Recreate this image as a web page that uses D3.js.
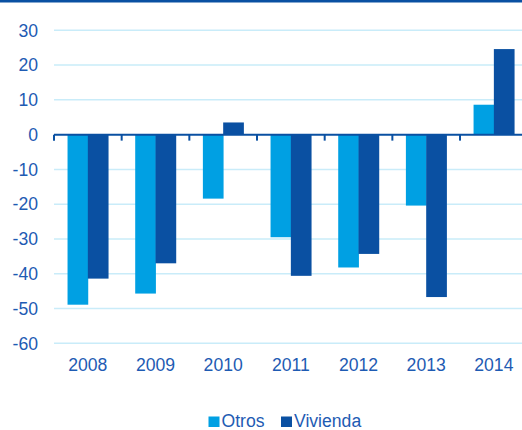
<!DOCTYPE html>
<html>
<head>
<meta charset="utf-8">
<script src="https://cdn.jsdelivr.net/npm/d3@7"></script>
<style>
  html, body { margin: 0; padding: 0; background: #fff; }
  svg { display: block; font-family: "Liberation Sans", Arial, sans-serif; }
</style>
</head>
<body>
<svg id="chart" width="522" height="430"></svg>
<script>
const categories = ["2008", "2009", "2010", "2011", "2012", "2013", "2014"];
const seriesNames = ["Otros", "Vivienda"];
const otros = [-48.9, -45.7, -18.4, -29.5, -38.2, -20.4, 8.6];
const vivienda = [-41.4, -37.0, 3.5, -40.6, -34.3, -46.7, 24.6];
const yTicks = [30, 20, 10, 0, -10, -20, -30, -40, -50, -60];

const colors = { Otros: "#00a0e3", Vivienda: "#0a50a2" };
const textColor = "#1e5bb3";
const gridColor = "#c9ecf9";

const data = categories.map((c, i) => ({ cat: c, Otros: otros[i], Vivienda: vivienda[i] }));

const svg = d3.select("#chart");
const W = 522;

// top border
svg.append("rect").attr("x", 0).attr("y", 0).attr("width", W).attr("height", 2.5).attr("fill", "#0a50a2");

const y = d3.scaleLinear().domain([-60, 30]).range([343.3, 30.3]);
const x = d3.scaleBand().domain(categories).range([54, 527.7]).paddingInner(0).paddingOuter(0);
const bw = x.bandwidth();
const xs = d3.scaleBand().domain(seriesNames).range([0.2 * bw, 0.8 * bw]).padding(0);

// gridlines
svg.append("g").selectAll("line").data(yTicks.filter(t => t !== 0)).join("line")
  .attr("x1", 54).attr("x2", W)
  .attr("y1", d => y(d)).attr("y2", d => y(d))
  .attr("stroke", gridColor).attr("stroke-width", 1.5);

// y labels
svg.append("g").selectAll("text").data(yTicks).join("text")
  .attr("x", 38).attr("y", d => y(d) + 6.3)
  .attr("text-anchor", "end")
  .attr("font-size", 17.6).attr("fill", textColor)
  .text(d => d);

// bars
const groups = svg.append("g").selectAll("g").data(data).join("g")
  .attr("transform", d => `translate(${x(d.cat)},0)`);
groups.selectAll("rect").data(d => seriesNames.map(s => ({ s, v: d[s] }))).join("rect")
  .attr("x", d => xs(d.s))
  .attr("width", xs.bandwidth() + 0.4)
  .attr("y", d => Math.min(y(d.v), y(0)))
  .attr("height", d => Math.abs(y(d.v) - y(0)))
  .attr("fill", d => colors[d.s]);

// x axis line & ticks
const y0 = y(0);
svg.append("line").attr("x1", 54).attr("x2", W).attr("y1", y0).attr("y2", y0)
  .attr("stroke", "#0a50a2").attr("stroke-width", 2);
const tickPos = categories.map(c => x(c));
svg.append("g").selectAll("line").data(tickPos).join("line")
  .attr("x1", d => d).attr("x2", d => d)
  .attr("y1", y0).attr("y2", y0 + 6)
  .attr("stroke", "#0a50a2").attr("stroke-width", 2);

// x labels
svg.append("g").selectAll("text").data(categories).join("text")
  .attr("x", d => x(d) + bw / 2).attr("y", 371)
  .attr("text-anchor", "middle")
  .attr("font-size", 17.6).attr("fill", textColor)
  .text(d => d);

// legend
const legendItems = [
  { name: "Otros", x: 208.5 },
  { name: "Vivienda", x: 281 }
];
const lg = svg.append("g").selectAll("g").data(legendItems).join("g")
  .attr("transform", d => `translate(${d.x},0)`);
lg.append("rect").attr("x", 0).attr("y", 416.5).attr("width", 11).attr("height", 10.5)
  .attr("fill", d => colors[d.name]);
lg.append("text").attr("x", 13).attr("y", 427)
  .attr("font-size", 17.6).attr("fill", textColor)
  .text(d => d.name);
</script>
</body>
</html>
